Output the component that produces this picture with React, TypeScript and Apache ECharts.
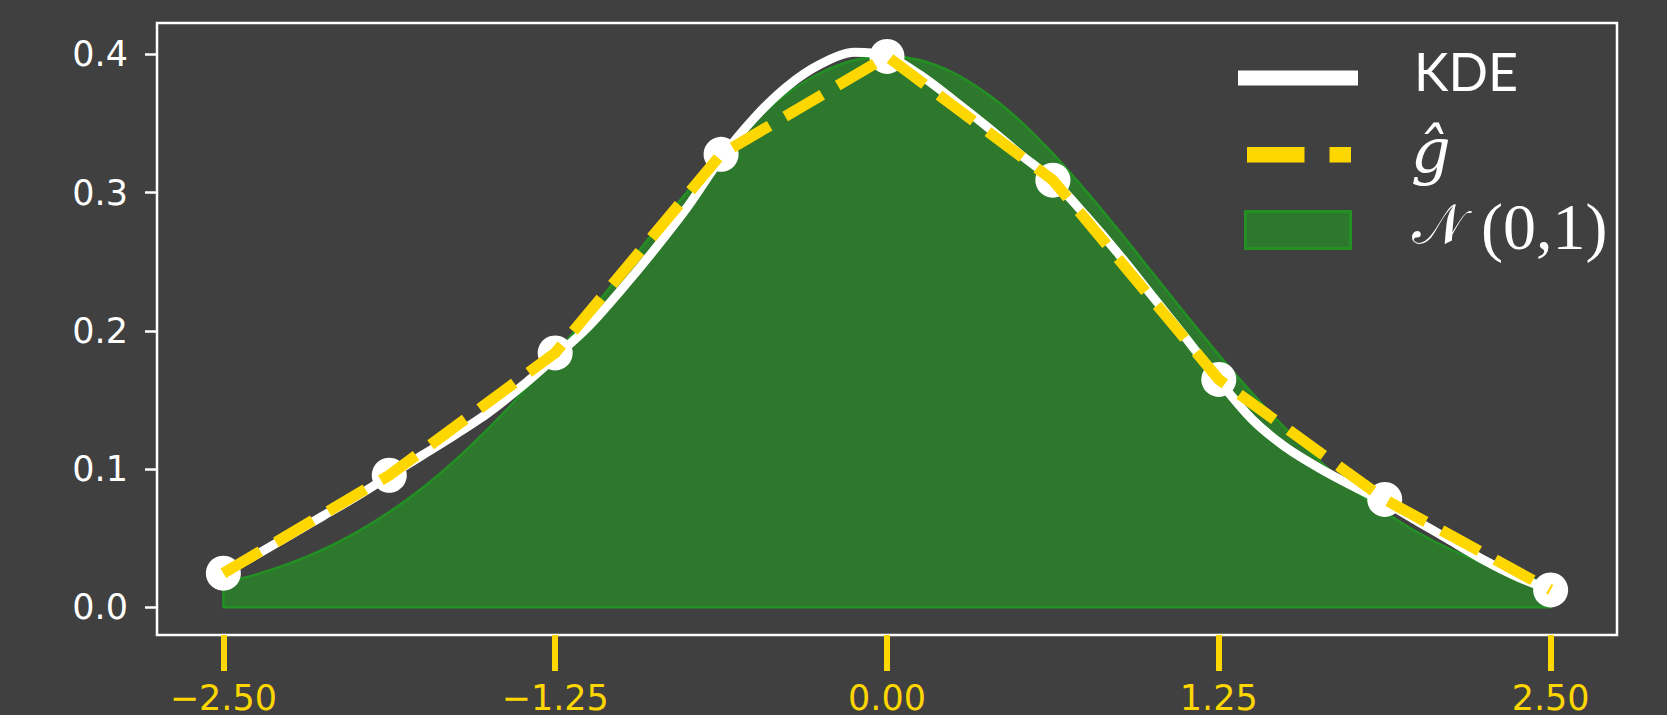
import React, { useEffect, useRef } from "react";
import * as echarts from "echarts";

const xGrid = [
  -2.5, -2.375, -2.25, -2.125, -2.0, -1.875, -1.75, -1.625, -1.5, -1.375,
  -1.25, -1.125, -1.0, -0.875, -0.75, -0.625, -0.5, -0.375, -0.25, -0.125,
  0, 0.125, 0.25, 0.375, 0.5, 0.625, 0.75, 0.875, 1.0, 1.125,
  1.25, 1.375, 1.5, 1.625, 1.75, 1.875, 2.0, 2.125, 2.25, 2.375, 2.5,
];
const kdeValues = [
  0.025, 0.038, 0.052, 0.066, 0.08, 0.095, 0.11, 0.125, 0.141, 0.16,
  0.181, 0.203, 0.23, 0.259, 0.29, 0.325, 0.354, 0.377, 0.393, 0.4015,
  0.399, 0.385, 0.367, 0.348, 0.328, 0.309, 0.283, 0.255, 0.225, 0.195,
  0.164, 0.136, 0.116, 0.101, 0.088, 0.076, 0.062, 0.048, 0.034, 0.022, 0.0125,
];
const normalValues = [
  0.0175, 0.0238, 0.0317, 0.0417, 0.054, 0.0689, 0.0863, 0.1066, 0.1295, 0.155,
  0.1826, 0.2119, 0.242, 0.2721, 0.3011, 0.3282, 0.3521, 0.3718, 0.3867, 0.3958,
  0.3989, 0.3958, 0.3867, 0.3718, 0.3521, 0.3282, 0.3011, 0.2721, 0.242, 0.2119,
  0.1826, 0.155, 0.1295, 0.1066, 0.0863, 0.0689, 0.054, 0.0417, 0.0317, 0.0238, 0.0175,
];
const gHatX = [-2.5, -1.875, -1.25, -0.625, 0, 0.625, 1.25, 1.875, 2.5];
const gHatY = [0.0246, 0.0955, 0.184, 0.3277, 0.3985, 0.309, 0.1648, 0.078, 0.0125];
const xTicks = [-2.5, -1.25, 0, 1.25, 2.5];
const yTicks = [0, 0.1, 0.2, 0.3, 0.4];
const legendLabels = ["KDE", "\u011D", "\uD835\uDCA9", "(0,1)"];

const BG = "#404040";
const GOLD = "#FFD700";
const GREEN_FILL = "#2E782E";
const GREEN_EDGE = "#229022";

export default function App() {
  const ref = useRef<HTMLDivElement>(null);
  useEffect(() => {
    if (!ref.current) return;
    document.body.style.margin = "0";
    document.body.style.background = BG;
    document.documentElement.style.overflow = "hidden";
    const chart = echarts.init(ref.current, undefined, { renderer: "svg" });
    const kde = xGrid.map((x, i) => [x, kdeValues[i]]);
    const norm = xGrid.map((x, i) => [x, normalValues[i]]);
    const last = xGrid.length - 1;
    const outline = [
      [xGrid[0], normalValues[0]],
      [xGrid[0], 0],
      [xGrid[last], 0],
      [xGrid[last], normalValues[last]],
    ];
    const g = gHatX.map((x, i) => [x, gHatY[i]]);
    const tickFont = "DejaVu Sans";
    chart.setOption({
      animation: false,
      backgroundColor: BG,
      grid: {
        left: 157,
        right: 50,
        top: 23,
        bottom: 80,
        containLabel: false,
        outerBoundsMode: "none",
        show: true,
        borderColor: "#ffffff",
        borderWidth: 2.5,
        backgroundColor: "transparent",
      },
      xAxis: {
        type: "value",
        min: -2.75,
        max: 2.75,
        axisLine: { show: false, onZero: false },
        splitLine: { show: false },
        axisTick: {
          show: true,
          customValues: xTicks,
          length: 36,
          lineStyle: { color: GOLD, width: 6 },
        },
        axisLabel: {
          customValues: xTicks,
          color: GOLD,
          fontSize: 35,
          fontFamily: tickFont,
          margin: 45,
          formatter: (v: number) => (v < 0 ? "\u2212" : "") + Math.abs(v).toFixed(2),
        },
      },
      yAxis: {
        type: "value",
        min: -0.0201,
        max: 0.4227,
        axisLine: { show: false, onZero: false },
        splitLine: { show: false },
        axisTick: {
          show: true,
          customValues: yTicks,
          length: 12,
          lineStyle: { color: "#ffffff", width: 2.5 },
        },
        axisLabel: {
          customValues: yTicks,
          color: "#ffffff",
          fontSize: 35,
          fontFamily: tickFont,
          margin: 29,
          formatter: (v: number) => v.toFixed(1),
        },
      },
      series: [
        {
          type: "line",
          data: norm,
          smooth: 0.3,
          showSymbol: false,
          lineStyle: { color: GREEN_EDGE, width: 2.5 },
          areaStyle: { color: GREEN_FILL, opacity: 1 },
          z: 1,
        },
        {
          type: "line",
          data: outline,
          showSymbol: false,
          lineStyle: { color: GREEN_EDGE, width: 2.5 },
          z: 1,
        },
        {
          type: "line",
          data: kde,
          smooth: 0.3,
          showSymbol: false,
          lineStyle: { color: "#ffffff", width: 9 },
          z: 3,
        },
        {
          type: "scatter",
          data: g,
          symbol: "circle",
          symbolSize: 35,
          itemStyle: { color: "#ffffff", opacity: 1 },
          z: 4,
        },
        {
          type: "line",
          data: g,
          showSymbol: false,
          lineStyle: { color: GOLD, width: 11, type: [43, 18], cap: "butt" },
          z: 5,
        },
      ],
      graphic: [
        { type: "rect", shape: { x: 1238, y: 70.5, width: 120, height: 15 }, style: { fill: "#ffffff" }, z: 10 },
        { type: "rect", shape: { x: 1247, y: 147, width: 57.5, height: 15.5 }, style: { fill: GOLD }, z: 10 },
        { type: "rect", shape: { x: 1329.5, y: 147, width: 21.5, height: 15.5 }, style: { fill: GOLD }, z: 10 },
        {
          type: "rect",
          shape: { x: 1245.5, y: 211.5, width: 105, height: 37 },
          style: { fill: GREEN_FILL, stroke: GREEN_EDGE, lineWidth: 3 },
          z: 10,
        },
        {
          type: "text",
          x: 1414,
          y: 71,
          style: { text: legendLabels[0], fill: "#ffffff", fontSize: 52, fontFamily: "Lato", align: "left", verticalAlign: "middle" },
          z: 10,
        },
        {
          type: "text",
          x: 1411,
          y: 150,
          style: { text: legendLabels[1], fill: "#ffffff", fontSize: 62, fontStyle: "italic", fontFamily: "DejaVu Serif", align: "left", verticalAlign: "middle" },
          z: 10,
        },
        {
          type: "text",
          x: 1412,
          y: 224,
          style: { text: legendLabels[2], fill: "#ffffff", fontSize: 55, fontFamily: "DejaVu Serif, DejaVu Sans, Noto Sans", align: "left", verticalAlign: "middle" },
          z: 10,
        },
        {
          type: "text",
          x: 1481,
          y: 226,
          style: { text: legendLabels[3], fill: "#ffffff", fontSize: 66, fontFamily: "Liberation Serif", align: "left", verticalAlign: "middle" },
          z: 10,
        },
      ],
    });
    return () => chart.dispose();
  }, []);
  return <div ref={ref} style={{ width: 1667, height: 715, background: BG }} />;
}
